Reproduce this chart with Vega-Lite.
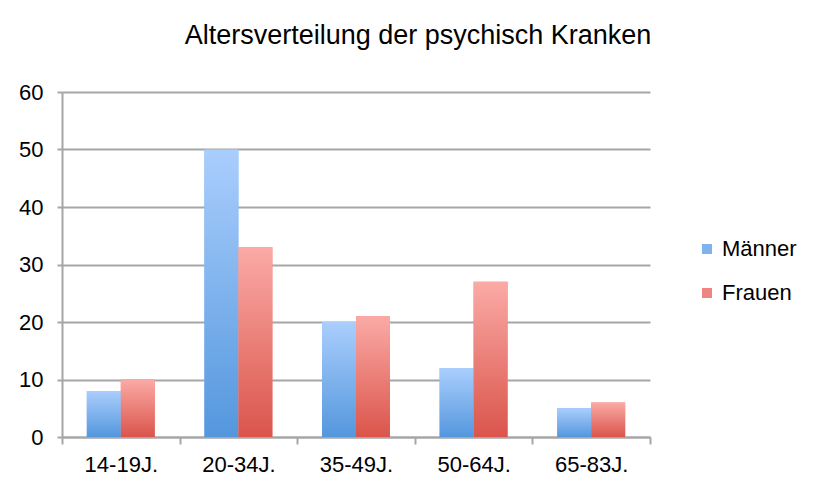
{
  "$schema": "https://vega.github.io/schema/vega-lite/v6.json",
  "autosize": {"type": "none"},
  "width": 588,
  "height": 345,
  "padding": {"left": 62, "top": 92, "right": 167, "bottom": 41},
  "background": "white",
  "title": {
    "text": "Altersverteilung der psychisch Kranken",
    "anchor": "middle",
    "frame": "group",
    "dx": 62,
    "offset": 31,
    "font": "Liberation Sans",
    "fontSize": 27,
    "fontWeight": "normal",
    "color": "#000000"
  },
  "config": {
    "view": {"stroke": null},
    "font": "Liberation Sans",
    "axis": {
      "labelFont": "Liberation Sans",
      "labelFontSize": 22,
      "labelColor": "#000000",
      "domainColor": "#A6A6A6",
      "domainWidth": 2,
      "tickColor": "#A6A6A6",
      "tickWidth": 2,
      "gridColor": "#A6A6A6",
      "gridWidth": 2,
      "title": null
    }
  },
  "data": {
    "values": [
      {"k": "14-19J.", "g": "Männer", "v": 8},
      {"k": "14-19J.", "g": "Frauen", "v": 10},
      {"k": "20-34J.", "g": "Männer", "v": 50},
      {"k": "20-34J.", "g": "Frauen", "v": 33},
      {"k": "35-49J.", "g": "Männer", "v": 20},
      {"k": "35-49J.", "g": "Frauen", "v": 21},
      {"k": "50-64J.", "g": "Männer", "v": 12},
      {"k": "50-64J.", "g": "Frauen", "v": 27},
      {"k": "65-83J.", "g": "Männer", "v": 5},
      {"k": "65-83J.", "g": "Frauen", "v": 6}
    ]
  },
  "encoding": {
    "x": {
      "field": "k",
      "type": "nominal",
      "sort": null,
      "scale": {"paddingInner": 0, "paddingOuter": 0},
      "axis": {
        "labelAngle": 0,
        "tickBand": "extent",
        "tickSize": 7,
        "labelPadding": 10,
        "grid": false
      }
    },
    "xOffset": {
      "field": "g",
      "type": "nominal",
      "scale": {"domain": ["Männer", "Frauen"], "paddingInner": 0, "paddingOuter": 0.73}
    },
    "y": {
      "field": "v",
      "type": "quantitative",
      "scale": {"domain": [0, 60]},
      "axis": {
        "values": [0, 10, 20, 30, 40, 50, 60],
        "tickSize": 5,
        "labelPadding": 14,
        "grid": true
      }
    }
  },
  "layer": [
    {
      "mark": {"type": "bar"},
      "encoding": {
        "color": {
          "field": "g",
          "type": "nominal",
          "scale": {"domain": ["Männer", "Frauen"], "range": ["#7FB3F0", "#EE8580"]},
          "legend": {
            "title": null,
            "orient": "none",
            "legendX": 634,
            "legendY": 146,
            "symbolType": "square",
            "symbolSize": 100,
            "symbolStrokeWidth": 0,
            "labelFont": "Liberation Sans",
            "labelFontSize": 22,
            "labelColor": "#000000",
            "rowPadding": 22,
            "labelOffset": 4
          }
        }
      }
    },
    {
      "mark": {"type": "bar"},
      "encoding": {
        "color": {
          "condition": {
            "test": "datum.g === 'Männer'",
            "value": {
              "gradient": "linear",
              "x1": 0, "y1": 0, "x2": 0, "y2": 1,
              "stops": [
                {"offset": 0, "color": "#AACEFD"},
                {"offset": 1, "color": "#5497DD"}
              ]
            }
          },
          "value": {
            "gradient": "linear",
            "x1": 0, "y1": 0, "x2": 0, "y2": 1,
            "stops": [
              {"offset": 0, "color": "#FBAAA6"},
              {"offset": 1, "color": "#DA554B"}
            ]
          }
        }
      }
    }
  ]
}
